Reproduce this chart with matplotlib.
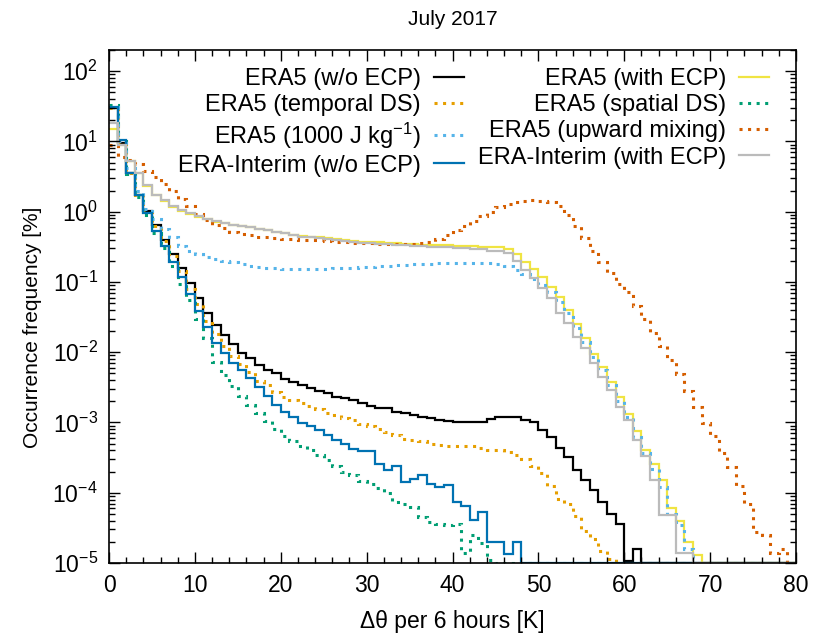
import numpy as np
import matplotlib
matplotlib.use("Agg")
import matplotlib.pyplot as plt
from matplotlib.lines import Line2D
from matplotlib.ticker import LogLocator, MultipleLocator, NullFormatter

plt.rcParams["font.family"] = ["Liberation Sans", "DejaVu Sans"]
plt.rcParams["mathtext.fontset"] = "custom"
plt.rcParams["mathtext.rm"] = "Liberation Sans"
plt.rcParams["mathtext.it"] = "Liberation Sans:italic"
plt.rcParams["mathtext.bf"] = "Liberation Sans:bold"

# Histogram bin edges: 1 K bins from 0 to 80 K
bin_edges = np.arange(0, 81, 1)

era5_wo_ecp = [
    30, 9.5, 3.6, 1.75, 1.02, 0.65, 0.40, 0.25, 0.16, 0.096,
    0.060, 0.036, 0.0244, 0.0176, 0.0131, 0.0096, 0.0082, 0.0066, 0.0056, 0.0050,
    0.0042, 0.0038, 0.0034, 0.0031, 0.0028, 0.0026, 0.0023, 0.0022, 0.0021, 0.0019,
    0.0017, 0.0016, 0.0016, 0.0014, 0.00135, 0.00128, 0.0012, 0.00115, 0.00108, 0.00105,
    0.0010, 0.00102, 0.0010, 0.00102, 0.00112, 0.00118, 0.0012, 0.00118, 0.00108, 0.00101,
    0.00078, 0.00063, 0.00043, 0.00032, 0.00021, 0.00015, 0.000109, 7.4e-5, 5.0e-5, 3.6e-5,
    1.07e-5, 1.6e-5, 0, 0, 0, 0, 0, 0, 0, 0,
    0, 0, 0, 0, 0, 0, 0, 0, 0, 0,
]
era5_with_ecp = [
    15, 9.0, 5.2, 3.5, 2.3, 1.7, 1.4, 1.17, 1.02, 0.93,
    0.85, 0.78, 0.72, 0.68, 0.65, 0.62, 0.60, 0.57, 0.55, 0.52,
    0.50, 0.47, 0.45, 0.44, 0.43, 0.42, 0.41, 0.39, 0.38, 0.375,
    0.37, 0.365, 0.36, 0.355, 0.35, 0.345, 0.34, 0.337, 0.335, 0.333,
    0.33, 0.325, 0.32, 0.315, 0.31, 0.31, 0.29, 0.25, 0.19, 0.155,
    0.117, 0.086, 0.061, 0.040, 0.025, 0.0158, 0.0095, 0.0061, 0.0038, 0.0023,
    0.00134, 0.00075, 0.00040, 0.00026, 0.00015, 6.0e-5, 3.9e-5, 2.0e-5, 1.3e-5, 0,
    0, 0, 0, 0, 0, 0, 0, 0, 0, 0,
]
era5_temporal_ds = [
    30, 9.5, 3.6, 1.7, 1.0, 0.62, 0.38, 0.235, 0.145, 0.080,
    0.048, 0.028, 0.018, 0.0122, 0.0089, 0.0068, 0.0052, 0.0039, 0.0034, 0.0027,
    0.0023, 0.0021, 0.0019, 0.0017, 0.00155, 0.00138, 0.00128, 0.00117, 0.00107, 0.00096,
    0.00089, 0.00081, 0.00072, 0.00066, 0.00059, 0.00057, 0.00055, 0.00050, 0.00048, 0.00046,
    0.00046, 0.00047, 0.00046, 0.00043, 0.00041, 0.00041, 0.00038, 0.00035, 0.00030, 0.00024,
    0.00019, 0.000126, 8.2e-5, 6.9e-5, 4.7e-5, 2.9e-5, 2.2e-5, 1.5e-5, 1.15e-5, 0,
    0, 0, 0, 0, 0, 0, 0, 0, 0, 0,
    0, 0, 0, 0, 0, 0, 0, 0, 0, 0,
]
era5_spatial_ds = [
    33, 10, 3.4, 1.6, 0.9, 0.5, 0.3, 0.17, 0.095, 0.055,
    0.030, 0.016, 0.0072, 0.0048, 0.0033, 0.0024, 0.0018, 0.00137, 0.00105, 0.00080,
    0.00065, 0.00054, 0.00046, 0.00040, 0.00034, 0.00029, 0.00024, 0.00020, 0.00018, 0.000145,
    0.000135, 0.000115, 0.00010, 7.4e-5, 6.9e-5, 6.3e-5, 4.5e-5, 3.8e-5, 3.6e-5, 3.5e-5,
    3.6e-5, 1.4e-5, 2.5e-5, 1.9e-5, 1.1e-5, 0, 0, 0, 0, 0,
    0, 0, 0, 0, 0, 0, 0, 0, 0, 0,
    0, 0, 0, 0, 0, 0, 0, 0, 0, 0,
    0, 0, 0, 0, 0, 0, 0, 0, 0, 0,
]
era5_1000jkg = [
    31, 10, 4.2, 2.0, 1.1, 0.78, 0.57, 0.43, 0.33, 0.28,
    0.25, 0.23, 0.21, 0.20, 0.19, 0.178, 0.17, 0.165, 0.16, 0.157,
    0.155, 0.153, 0.152, 0.153, 0.155, 0.155, 0.156, 0.158, 0.16, 0.162,
    0.165, 0.167, 0.17, 0.173, 0.175, 0.178, 0.18, 0.183, 0.185, 0.186,
    0.187, 0.188, 0.188, 0.187, 0.186, 0.183, 0.17, 0.15, 0.13, 0.11,
    0.09, 0.072, 0.052, 0.036, 0.022, 0.014, 0.0085, 0.0055, 0.0034, 0.0020,
    0.0012, 0.00062, 0.00037, 0.00022, 0.00012, 5.0e-5, 3.5e-5, 1.6e-5, 0, 0,
    0, 0, 0, 0, 0, 0, 0, 0, 0, 0,
]
era5_upward_mixing = [
    9.0, 6.0, 5.5, 4.8, 3.8, 3.1, 2.5, 1.95, 1.5, 1.2,
    0.92, 0.76, 0.64, 0.58, 0.52, 0.48, 0.46, 0.44, 0.43, 0.42,
    0.415, 0.41, 0.40, 0.395, 0.39, 0.38, 0.37, 0.365, 0.36, 0.358,
    0.355, 0.352, 0.35, 0.348, 0.347, 0.35, 0.355, 0.37, 0.41, 0.47,
    0.55, 0.63, 0.73, 0.86, 1.0, 1.15, 1.28, 1.38, 1.44, 1.47,
    1.44, 1.36, 1.2, 0.9, 0.62, 0.42, 0.28, 0.195, 0.135, 0.092,
    0.071, 0.046, 0.030, 0.019, 0.0124, 0.0077, 0.0049, 0.0028, 0.00168, 0.00098,
    0.00064, 0.00037, 0.00023, 0.000125, 7.0e-5, 2.8e-5, 2.5e-5, 1.37e-5, 1.6e-5, 0,
]
erai_wo_ecp = [
    31, 10.5, 3.5, 1.7, 0.95, 0.53, 0.32, 0.19, 0.118, 0.068,
    0.039, 0.0225, 0.0137, 0.0096, 0.0070, 0.0056, 0.0043, 0.0032, 0.0024, 0.0018,
    0.0014, 0.00118, 0.00097, 0.00089, 0.00078, 0.00066, 0.00056, 0.00050, 0.00042, 0.00039,
    0.00039, 0.00026, 0.00021, 0.00024, 0.000144, 0.000155, 0.00018, 0.000135, 0.00012, 0.000129,
    7.4e-5, 6.4e-5, 4.1e-5, 5.3e-5, 2.0e-5, 2.0e-5, 1.34e-5, 2.0e-5, 0, 0,
    0, 0, 0, 0, 0, 0, 0, 0, 0, 0,
    0, 0, 0, 0, 0, 0, 0, 0, 0, 0,
    0, 0, 0, 0, 0, 0, 0, 0, 0, 0,
]
erai_with_ecp = [
    18, 9.0, 5.2, 3.6, 2.4, 1.75, 1.45, 1.2, 1.05, 0.95,
    0.86, 0.78, 0.73, 0.69, 0.65, 0.62, 0.60, 0.57, 0.55, 0.52,
    0.49, 0.46, 0.44, 0.43, 0.42, 0.41, 0.40, 0.38, 0.37, 0.36,
    0.355, 0.35, 0.345, 0.34, 0.335, 0.325, 0.32, 0.316, 0.313, 0.31,
    0.305, 0.30, 0.295, 0.29, 0.28, 0.275, 0.255, 0.20, 0.15, 0.112,
    0.081, 0.059, 0.036, 0.026, 0.0166, 0.0114, 0.0070, 0.0045, 0.0029, 0.00168,
    0.0011, 0.00056, 0.00033, 0.00015, 4.8e-5, 4.8e-5, 1.37e-5, 1.37e-5, 0, 0,
    0, 0, 0, 0, 0, 0, 0, 0, 0, 0,
]

labels = [
    "ERA5 (w/o ECP)", "ERA5 (with ECP)",
    "ERA5 (temporal DS)", "ERA5 (spatial DS)",
    "ERA5 (1000 J kg$^{-1}$)", "ERA5 (upward mixing)",
    "ERA-Interim (w/o ECP)", "ERA-Interim (with ECP)",
]
series = [
    era5_wo_ecp, era5_with_ecp,
    era5_temporal_ds, era5_spatial_ds,
    era5_1000jkg, era5_upward_mixing,
    erai_wo_ecp, erai_with_ecp,
]
colors = ["#000000", "#F0E442", "#E69F00", "#009E73",
          "#56B4E9", "#D55E00", "#0072B2", "#BBBBBB"]
dotted = [False, False, True, True, True, True, False, False]

y_min, y_max = 1e-5, 2e2
x_ticks = [0, 10, 20, 30, 40, 50, 60, 70, 80]

DOT_STYLE = dict(linestyle=(0, (1, 1.8)), linewidth=2.2)
SOLID_STYLE = dict(linestyle="-", linewidth=1.6)

fig = plt.figure(figsize=(8.13, 6.4), dpi=100)
ax = fig.add_axes([109 / 813, 1 - 563 / 640, (796 - 109) / 813, (563 - 50) / 640])

for vals, lab, col, dot in zip(series, labels, colors, dotted):
    # empty bins are pinned to the lower edge of the log axis
    v = np.maximum(np.asarray(vals, dtype=float), y_min)
    style = DOT_STYLE if dot else SOLID_STYLE
    ax.stairs(v, bin_edges, baseline=None, color=col, label=lab, **style)

ax.set_yscale("log")
ax.set_xlim(0, 80)
ax.set_ylim(y_min, y_max)
ax.set_xticks(x_ticks)
ax.xaxis.set_minor_locator(MultipleLocator(2))
ax.yaxis.set_major_locator(LogLocator(base=10, numticks=20))
ax.yaxis.set_minor_locator(LogLocator(base=10, subs=np.arange(2, 10), numticks=20))
ax.yaxis.set_minor_formatter(NullFormatter())

ax.tick_params(which="both", direction="in", top=True, right=True,
               labelsize=16.5, width=1.0, pad=8)
ax.tick_params(which="major", length=8)
ax.tick_params(which="minor", length=4)
for sp in ax.spines.values():
    sp.set_linewidth(1.2)

ax.set_xlabel("\u0394\u03b8 per 6 hours [K]", fontsize=16.5, labelpad=9)
ax.set_ylabel("Occurrence frequency [%]", fontsize=15)
ax.yaxis.set_label_coords(-0.097, 0.46)
ax.set_title("July 2017", fontsize=15, pad=18)

# two-column key, text right-aligned with the sample line after it
order = [0, 2, 4, 6, 1, 3, 5, 7]
leg_handles = []
for i in order:
    style = DOT_STYLE if dotted[i] else SOLID_STYLE
    leg_handles.append(Line2D([], [], color=colors[i], dash_capstyle="butt", **style))
leg = ax.legend(leg_handles, [labels[i] for i in order], ncol=2,
                markerfirst=False, frameon=False, loc="upper right",
                bbox_to_anchor=(0.960, 0.964), fontsize=17,
                handlelength=1.25, handletextpad=0.55, columnspacing=0.6,
                labelspacing=0.17, borderaxespad=0, borderpad=0)

fig.savefig("out.png", dpi=100)
